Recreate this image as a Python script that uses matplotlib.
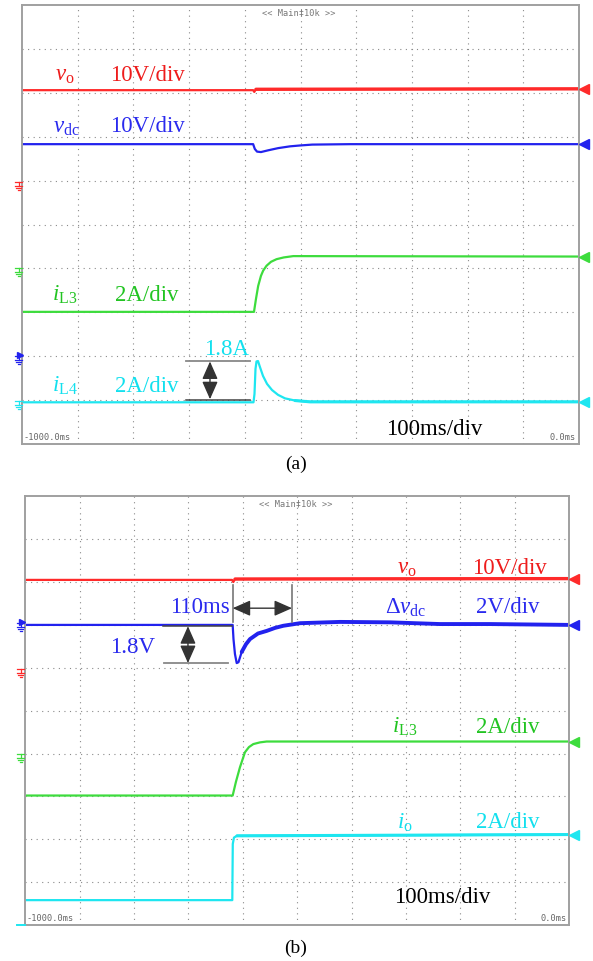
import matplotlib
matplotlib.use('Agg')
import matplotlib.pyplot as plt
from matplotlib.lines import Line2D
from matplotlib.transforms import IdentityTransform
import numpy as np

plt.rcParams['mathtext.fontset'] = 'custom'
plt.rcParams['mathtext.rm'] = 'Liberation Serif'
plt.rcParams['mathtext.it'] = 'Liberation Serif:italic'
plt.rcParams['font.family'] = ['Liberation Serif', 'DejaVu Sans']

# ---------------- data (time in ms, amplitude in screen divisions) -------------
# Panel (a)
a_vo_t = [-1000, -585, -583, -580, 0]
a_vo_d = [3.06, 3.06, 3.02, 3.08, 3.09]
a_vdc_t = [-1000, -585, -582, -578, -571, -558, -540, -519, -501, -479, -411, 0]
a_vdc_d = [1.83, 1.83, 1.72, 1.66, 1.65, 1.69, 1.74, 1.78, 1.80, 1.82, 1.83, 1.83]
a_iL3_t = [-1000, -583.5, -580, -576, -571, -567, -561, -553, -543, -530, -513, 0]
a_iL3_d = [-1.99, -1.99, -1.70, -1.40, -1.17, -1.05, -0.94, -0.85, -0.79, -0.75, -0.72, -0.73]
a_iL4_t = [-1000, -584.4, -582.6, -580.8, -579, -576.3, -572.7, -567.3, -560.1, -551.2,
           -540.4, -527.8, -509.9, -482.9, 0]
a_iL4_d = [-4.05, -4.05, -3.86, -3.29, -3.12, -3.11, -3.25, -3.45, -3.63, -3.77,
           -3.88, -3.96, -4.01, -4.04, -4.04]

# Panel (b)
b_vo_t = [-1000, -620, -617.6, -614.5, 0]
b_vo_d = [3.05, 3.05, 3.00, 3.07, 3.08]
b_vdc_t = [-1000, -618.8, -617.3, -614.6, -611.4, -608.1, -602.2, -594.3, -586.9, -572.2,
           -556.3, -541.0, -525.7, -495.0, -421.5, -329.6, -237.7, -145.8, 0]
b_vdc_d = [2.00, 2.00, 1.67, 1.32, 1.11, 1.13, 1.37, 1.55, 1.67, 1.80,
           1.86, 1.93, 1.98, 2.04, 2.07, 2.06, 2.02, 2.02, 2.00]
b_iL3_t = [-1000, -618.8, -612.8, -605.4, -596.2, -588.9, -580.9, -568.6, -556.3, 0]
b_iL3_d = [-1.98, -1.98, -1.66, -1.32, -0.97, -0.85, -0.78, -0.74, -0.72, -0.72]
b_io_t = [-1000, -619.5, -618.6, -616.4, -610.9, 0]
b_io_d = [-4.42, -4.42, -3.11, -2.96, -2.92, -2.89]

RED, BLUE, GREEN, CYAN = '#ff2a2a', '#2222ee', '#3ddc3d', '#1ee6f0'
TRED, TBLUE, TGREEN, TCYAN = '#ee1c1c', '#2a2aee', '#22c422', '#12e0ee'
FS = 16.5
W, H = 593, 962

fig = plt.figure(figsize=(W / 100, H / 100), dpi=100)
fig.patch.set_facecolor('white')


def make_ax(x0, y0, x1, y1):
    ax = fig.add_axes([x0 / W, 1 - y1 / H, (x1 - x0) / W, (y1 - y0) / H])
    ax.set_xlim(-1000, 0)
    ax.set_ylim(-5, 5)
    ax.set_xticks(np.arange(-900, 0, 100))
    ax.set_yticks(np.arange(-4, 5, 1))
    ax.tick_params(length=0, labelbottom=False, labelleft=False)
    ax.grid(True, linestyle=(0, (1, 4)), color='#8a8a8a', lw=0.8)
    for s in ax.spines.values():
        s.set_color('#a0a0a0')
        s.set_linewidth(1.4)
    ax.text(0.497, 0.994, '<< Main\u202110k >>', transform=ax.transAxes, ha='center', va='top',
            fontsize=6.2, color='#777777', family=['DejaVu Sans Mono', 'DejaVu Sans'])
    ax.text(0.003, 0.006, '-1000.0ms', transform=ax.transAxes, ha='left', va='bottom',
            fontsize=6.2, color='#666666', family=['DejaVu Sans Mono', 'DejaVu Sans'])
    ax.text(0.995, 0.006, '0.0ms', transform=ax.transAxes, ha='right', va='bottom',
            fontsize=6.2, color='#666666', family=['DejaVu Sans Mono', 'DejaVu Sans'])
    return ax


def trace(ax, t, d, color, lw=1.6, lw_after=None, split=None):
    ax.plot(t, d, color=color, lw=lw, solid_joinstyle='round', solid_capstyle='round')
    if lw_after is not None:
        tt = [v for v in t if v >= split]
        dd = [d[i] for i, v in enumerate(t) if v >= split]
        ax.plot(tt, dd, color=color, lw=lw_after, solid_capstyle='round')
    ax.plot([t[-1] + 9], [d[-1]], marker='<', ms=7, color=color, clip_on=False, zorder=5)


def ground(x, y, color, arrow=False):
    # y is in image pixel coordinates (top origin)
    yy = H - y
    segs = [([x - 3.5, x + 3.5], [yy, yy]), ([x, x], [yy, yy - 4]),
            ([x - 3.5, x + 3.5], [yy - 4, yy - 4]), ([x - 2.5, x + 2.5], [yy - 6, yy - 6]),
            ([x - 1, x + 1], [yy - 8, yy - 8])]
    for xs, ys in segs:
        fig.add_artist(Line2D(xs, ys, color=color, lw=0.9, transform=IdentityTransform()))
    if arrow:
        fig.add_artist(Line2D([x + 1], [yy + 1], marker='>', ms=5, color=color,
                              transform=IdentityTransform()))


def darrow(ax, p1, p2):
    ax.annotate('', xy=p1, xytext=p2,
                arrowprops=dict(arrowstyle='<|-|>,head_length=0.68,head_width=0.3',
                                color='#333333', lw=1.0, mutation_scale=16,
                                shrinkA=0, shrinkB=0))


# ---------------- panel (a) ----------------
ax = make_ax(22, 6, 579, 445)
trace(ax, a_vo_t, a_vo_d, RED, lw=1.6, lw_after=2.4, split=-580)
trace(ax, a_vdc_t, a_vdc_d, BLUE, lw=1.6)
trace(ax, a_iL3_t, a_iL3_d, GREEN, lw=1.6)
trace(ax, a_iL4_t, a_iL4_d, CYAN, lw=1.6, lw_after=2.2, split=-510)

ax.text(-941, 3.29, r'$v_{\mathrm{o}}$', color=TRED, fontsize=FS)
ax.text(-842, 3.29, '10V/div', color=TRED, fontsize=FS)
ax.text(-944, 2.12, r'$v_{\mathrm{dc}}$', color=TBLUE, fontsize=FS)
ax.text(-842, 2.12, '10V/div', color=TBLUE, fontsize=FS)
ax.text(-946, -1.71, r'$i_{\mathrm{L3}}$', color=TGREEN, fontsize=FS)
ax.text(-833, -1.71, '2A/div', color=TGREEN, fontsize=FS)
ax.text(-946, -3.79, r'$i_{\mathrm{L4}}$', color=TCYAN, fontsize=FS)
ax.text(-833, -3.79, '2A/div', color=TCYAN, fontsize=FS)
ax.text(-673, -2.95, '1.8A', color=TCYAN, fontsize=FS)
ax.text(-346, -4.77, '100ms/div', color='black', fontsize=FS)

ax.plot([-706, -591], [-3.10, -3.10], color='#888888', lw=1.3)
ax.plot([-706, -591], [-4.00, -4.00], color='#444444', lw=1.1)
darrow(ax, (-662.5, -3.12), (-662.5, -3.98))

ground(18.5, 183, RED)
ground(18.5, 269, GREEN)
ground(18.5, 357, BLUE, arrow=True)
ground(18.5, 402, CYAN)

fig.text(296 / W, 1 - 464 / H, '(a)', ha='center', va='center', fontsize=14)

# ---------------- panel (b) ----------------
bx = make_ax(25.3, 497.3, 569.3, 926)
trace(bx, b_vo_t, b_vo_d, RED, lw=1.6, lw_after=2.4, split=-615)
trace(bx, b_vdc_t, b_vdc_d, BLUE, lw=1.6, lw_after=2.8, split=-603)
trace(bx, b_iL3_t, b_iL3_d, GREEN, lw=1.6)
trace(bx, b_io_t, b_io_d, CYAN, lw=1.6, lw_after=2.2, split=-611)

bx.text(-317, 3.21, r'$v_{\mathrm{o}}$', color=TRED, fontsize=FS)
bx.text(-179, 3.21, '10V/div', color=TRED, fontsize=FS)
bx.text(-339, 2.29, r'$\Delta v_{\mathrm{dc}}$', color=TBLUE, fontsize=FS)
bx.text(-171, 2.29, '2V/div', color=TBLUE, fontsize=FS)
bx.text(-624, 2.29, '110ms', color=TBLUE, fontsize=FS, ha='right')
bx.text(-844, 1.36, '1.8V', color=TBLUE, fontsize=FS)
bx.text(-325, -0.49, r'$i_{\mathrm{L3}}$', color=TGREEN, fontsize=FS)
bx.text(-171, -0.49, '2A/div', color=TGREEN, fontsize=FS)
bx.text(-317, -2.72, r'$i_{\mathrm{o}}$', color=TCYAN, fontsize=FS)
bx.text(-171, -2.72, '2A/div', color=TCYAN, fontsize=FS)
bx.text(-322, -4.46, '100ms/div', color='black', fontsize=FS)

bx.plot([-618.8, -618.8], [2.93, 2.07], color='#777777', lw=1.2)
bx.plot([-509.7, -509.7], [2.93, 2.07], color='#777777', lw=1.2)
darrow(bx, (-618.8, 2.39), (-509.7, 2.39))
bx.plot([-747, -620], [1.98, 1.98], color='#444444', lw=1.1)
bx.plot([-745, -627], [1.10, 1.10], color='#888888', lw=1.3)
darrow(bx, (-701, 1.97), (-701, 1.11))

ground(20.5, 624, BLUE, arrow=True)
ground(20.5, 670, RED)
ground(20.5, 755, GREEN)
fig.add_artist(Line2D([17, 25], [H - 926, H - 926], color=CYAN, lw=1.4,
                      transform=IdentityTransform()))

fig.text(296 / W, 1 - 948 / H, '(b)', ha='center', va='center', fontsize=14)

fig.savefig('out.png', dpi=100, facecolor='white')
